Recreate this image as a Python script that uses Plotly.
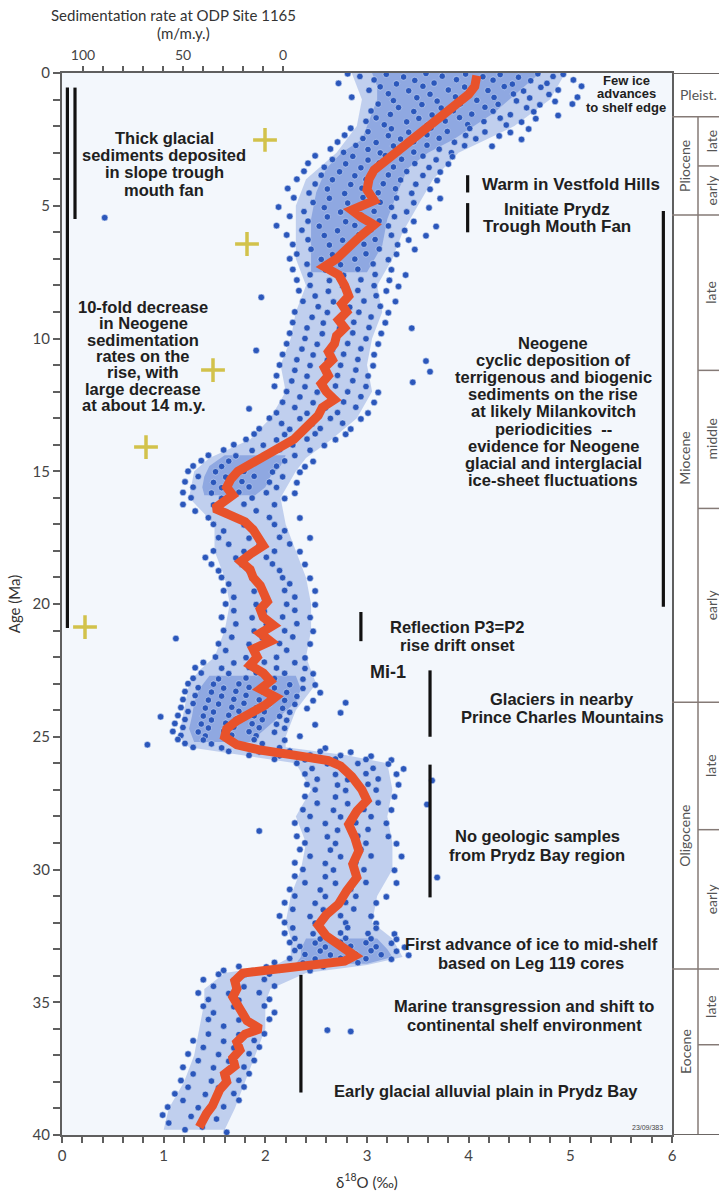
import plotly.graph_objects as go

# ---------------- data ----------------
# smoothed d18O curve (red)
curve_age = [0.1, 0.5, 0.8, 1.1, 1.5, 2.0, 2.5, 2.8, 3.2, 3.65, 4.0, 4.4, 4.8, 5.16, 5.45, 5.72,
             6.2, 6.67, 7.0, 7.3, 7.6, 8.0, 8.4, 8.7, 9.0, 9.3, 9.6, 9.9, 10.2, 10.5, 10.8, 11.1,
             11.4, 11.7, 12.0, 12.3, 12.6, 12.9, 13.2, 13.5, 13.8, 14.1, 14.4, 14.7, 15.0, 15.3,
             15.6, 15.9, 16.2, 16.4, 16.6, 16.9, 17.2, 17.5, 17.8, 18.1, 18.4, 18.7, 19.0, 19.3,
             19.6, 19.9, 20.2, 20.5, 20.8, 21.1, 21.4, 21.7, 22.0, 22.3, 22.6, 22.9, 23.2, 23.5,
             23.8, 24.1, 24.4, 24.7, 25.0, 25.3, 25.5, 25.7, 25.9, 26.1, 26.5, 27.0, 27.4, 27.8,
             28.3, 28.8, 29.3, 29.8, 30.3, 30.8, 31.3, 31.7, 32.1, 32.5, 32.9, 33.25, 33.45, 33.6,
             33.75, 33.9, 34.2, 34.5, 34.8, 35.1, 35.4, 35.7, 36.0, 36.2, 36.5, 36.8, 37.1, 37.4,
             37.7, 38.0, 38.3, 38.6, 38.9, 39.2, 39.5, 39.7]
curve_d18o = [4.08, 4.06, 4.0, 3.9, 3.76, 3.6, 3.45, 3.36, 3.2, 3.07, 3.02, 3.0, 3.07, 2.85, 2.95, 3.07,
              2.92, 2.8, 2.7, 2.58, 2.72, 2.78, 2.82, 2.75, 2.8, 2.72, 2.78, 2.7, 2.68, 2.62, 2.66, 2.58,
              2.62, 2.55, 2.6, 2.68, 2.56, 2.52, 2.45, 2.36, 2.28, 2.15, 2.0, 1.86, 1.73, 1.66,
              1.62, 1.68, 1.56, 1.5, 1.62, 1.8, 1.88, 1.92, 1.98, 1.86, 1.76, 1.85, 1.88, 1.95,
              1.98, 2.02, 1.95, 1.98, 2.08, 1.95, 2.05, 1.88, 1.92, 1.85, 1.98, 2.05, 1.95, 2.1,
              2.0, 1.85, 1.72, 1.62, 1.6, 1.72, 1.95, 2.3, 2.62, 2.74, 2.85, 2.95, 3.0, 2.9,
              2.82, 2.88, 2.92, 2.86, 2.9, 2.8, 2.72, 2.6, 2.52, 2.6, 2.75, 2.88, 2.78, 2.42,
              1.95, 1.78, 1.7, 1.72, 1.68, 1.72, 1.78, 1.82, 1.95, 1.8, 1.72, 1.75, 1.68, 1.7,
              1.6, 1.62, 1.55, 1.52, 1.48, 1.42, 1.38, 1.35]

# individual d18O measurements (age Ma, d18O permil)
cloud_0_3 = [
    (0.03, 2.81), (0.05, 3.19), (0.02, 3.58), (0.04, 3.97), (0.06, 4.31), (0.03, 4.68), (0.05, 4.93),
    (0.13, 2.93), (0.15, 3.36), (0.12, 3.74), (0.14, 4.14), (0.16, 4.49), (0.13, 4.83),
    (0.26, 3.07), (0.28, 3.47), (0.25, 3.88), (0.27, 4.24), (0.29, 4.61), (0.26, 5.03),
    (0.39, 2.72), (0.41, 3.29), (0.38, 3.66), (0.40, 4.07), (0.42, 4.43), (0.39, 4.77),
    (0.52, 3.13), (0.50, 3.55), (0.53, 3.96), (0.51, 4.35), (0.54, 4.71), (0.50, 5.11),
    (0.65, 3.02), (0.67, 3.41), (0.64, 3.80), (0.66, 4.19), (0.68, 4.54), (0.64, 4.88),
    (0.78, 3.21), (0.80, 3.62), (0.77, 4.02), (0.79, 4.44), (0.81, 4.79),
    (0.91, 2.85), (0.93, 3.49), (0.90, 3.87), (0.92, 4.25), (0.94, 4.60), (0.91, 5.07),
    (1.04, 3.26), (1.06, 3.69), (1.03, 4.08), (1.05, 4.47), (1.07, 4.85),
    (1.17, 3.11), (1.19, 3.54), (1.16, 3.92), (1.18, 4.29), (1.20, 4.70), (1.17, 5.02),
    (1.30, 3.31), (1.32, 3.73), (1.29, 4.16), (1.31, 4.57),
    (1.43, 3.04), (1.45, 3.46), (1.42, 3.85), (1.44, 4.24), (1.46, 4.64),
    (1.56, 3.23), (1.58, 3.64), (1.55, 4.03), (1.57, 4.41), (1.60, 4.88),
    (1.69, 3.09), (1.71, 3.51), (1.68, 3.91), (1.70, 4.31), (1.72, 4.66),
    (1.82, 2.99), (1.84, 3.39), (1.81, 3.77), (1.83, 4.15), (1.85, 4.52),
    (1.95, 3.17), (1.97, 3.59), (1.94, 3.99), (1.96, 4.37),
    (2.08, 2.84), (2.10, 3.24), (2.07, 3.63), (2.09, 4.01), (2.11, 4.59),
    (2.21, 3.01), (2.23, 3.41), (2.20, 3.79), (2.22, 4.16), (2.24, 4.41),
    (2.34, 2.78), (2.36, 3.21), (2.33, 3.59), (2.35, 3.97), (2.37, 4.30),
    (2.47, 2.96), (2.49, 3.33), (2.46, 3.71), (2.48, 4.07), (2.50, 4.52),
    (2.60, 2.71), (2.62, 3.09), (2.59, 3.46), (2.61, 3.86),
    (2.73, 2.89), (2.75, 3.26), (2.72, 3.59), (2.74, 3.96), (2.76, 4.23),
    (2.86, 2.64), (2.88, 3.01), (2.85, 3.35), (2.87, 3.71),
    (2.99, 2.77), (3.01, 3.13), (2.98, 3.46), (3.00, 3.83),
]
cloud_3_8 = [
    (3.12, 2.49), (3.14, 2.86), (3.11, 3.18), (3.13, 3.55), (3.15, 3.84),
    (3.26, 2.66), (3.28, 3.01), (3.25, 3.34), (3.27, 3.68),
    (3.40, 2.42), (3.42, 2.79), (3.39, 3.12), (3.41, 3.47), (3.43, 3.80),
    (3.55, 2.58), (3.57, 2.94), (3.54, 3.26), (3.56, 3.61),
    (3.70, 2.38), (3.72, 2.73), (3.69, 3.05), (3.71, 3.39), (3.73, 3.72),
    (3.85, 2.55), (3.87, 2.88), (3.84, 3.21), (3.86, 3.55),
    (4.00, 2.31), (4.02, 2.66), (4.01, 2.99), (4.03, 3.33), (4.05, 3.69),
    (4.18, 2.49), (4.20, 2.84), (4.17, 3.16), (4.19, 3.48),
    (4.35, 2.22), (4.37, 2.61), (4.34, 2.95), (4.36, 3.28), (4.38, 3.62),
    (4.52, 2.43), (4.54, 2.78), (4.51, 3.11), (4.53, 3.44),
    (4.70, 2.28), (4.72, 2.63), (4.69, 2.96), (4.71, 3.29), (4.73, 3.72),
    (4.88, 2.47), (4.90, 2.81), (4.87, 3.13), (4.89, 3.46),
    (5.05, 2.13), (5.07, 2.58), (5.04, 2.92), (5.06, 3.24), (5.08, 3.61),
    (5.22, 2.38), (5.24, 2.74), (5.21, 3.07), (5.23, 3.39),
    (5.40, 2.24), (5.42, 2.61), (5.39, 2.95), (5.41, 3.27), (5.45, 0.42),
    (5.58, 2.42), (5.60, 2.79), (5.57, 3.12), (5.59, 3.46),
    (5.75, 2.11), (5.77, 2.53), (5.74, 2.88), (5.76, 3.21), (5.78, 3.68),
    (5.92, 2.36), (5.94, 2.71), (5.91, 3.04), (5.93, 3.37),
    (6.10, 2.21), (6.12, 2.58), (6.09, 2.92), (6.11, 3.24), (6.13, 3.58),
    (6.28, 2.42), (6.30, 2.76), (6.27, 3.08), (6.29, 3.41),
    (6.46, 2.27), (6.48, 2.63), (6.45, 2.97), (6.47, 3.30),
    (6.64, 2.45), (6.66, 2.79), (6.63, 3.12), (6.65, 3.47),
    (6.82, 2.31), (6.84, 2.66), (6.81, 2.99), (6.83, 3.29),
    (7.00, 2.24), (7.02, 2.55), (7.01, 2.88), (7.03, 3.21),
    (7.20, 2.41), (7.22, 2.74), (7.19, 3.06),
    (7.40, 2.27), (7.42, 2.59), (7.39, 2.91), (7.41, 3.24),
    (7.60, 2.44), (7.62, 2.77), (7.59, 3.08), (7.61, 3.38),
    (7.80, 2.31), (7.82, 2.63), (7.79, 2.94), (7.81, 3.22),
]
cloud_8_14 = [
    (8.00, 2.44), (8.02, 2.76), (8.01, 3.07), (8.04, 3.31),
    (8.20, 2.33), (8.22, 2.62), (8.19, 2.91), (8.21, 3.19),
    (8.40, 2.49), (8.42, 2.81), (8.39, 3.09), (8.45, 1.96),
    (8.60, 2.37), (8.62, 2.67), (8.59, 2.97), (8.61, 3.28),
    (8.80, 2.52), (8.82, 2.83), (8.79, 3.13),
    (9.00, 2.29), (9.02, 2.61), (9.01, 2.92), (9.03, 3.21),
    (9.20, 2.46), (9.22, 2.76), (9.19, 3.04),
    (9.40, 2.27), (9.42, 2.57), (9.39, 2.87), (9.41, 3.18),
    (9.60, 2.41), (9.62, 2.73), (9.59, 3.02), (9.61, 3.44),
    (9.80, 2.24), (9.82, 2.56), (9.79, 2.86), (9.81, 3.14),
    (10.00, 2.39), (10.02, 2.69), (10.01, 2.99),
    (10.20, 2.21), (10.22, 2.51), (10.19, 2.81), (10.21, 3.11),
    (10.40, 2.36), (10.42, 2.66), (10.39, 2.94), (10.45, 1.91),
    (10.60, 2.17), (10.62, 2.47), (10.59, 2.77), (10.61, 3.07),
    (10.80, 2.31), (10.82, 2.61), (10.79, 2.91), (10.85, 3.58),
    (11.00, 2.14), (11.02, 2.44), (11.01, 2.74), (11.03, 3.06),
    (11.20, 2.29), (11.22, 2.59), (11.19, 2.89), (11.25, 3.62),
    (11.40, 2.11), (11.42, 2.41), (11.39, 2.71), (11.41, 3.01),
    (11.60, 2.26), (11.62, 2.56), (11.59, 2.86), (11.65, 3.45),
    (11.80, 2.09), (11.82, 2.39), (11.79, 2.69), (11.81, 2.99),
    (12.00, 2.21), (12.02, 2.51), (12.01, 2.81), (12.03, 3.11),
    (12.20, 2.34), (12.22, 2.64), (12.19, 2.94),
    (12.40, 2.17), (12.42, 2.47), (12.39, 2.77), (12.41, 3.07),
    (12.60, 2.29), (12.62, 2.59), (12.59, 2.89), (12.65, 1.84),
    (12.80, 2.11), (12.82, 2.41), (12.79, 2.71), (12.81, 3.01),
    (13.00, 2.04), (13.02, 2.34), (13.01, 2.64), (13.03, 2.94),
    (13.20, 2.16), (13.22, 2.46), (13.19, 2.76),
    (13.40, 1.94), (13.42, 2.24), (13.39, 2.54), (13.41, 2.84),
    (13.60, 1.89), (13.62, 2.19), (13.59, 2.49), (13.61, 2.79),
    (13.80, 1.81), (13.82, 2.11), (13.79, 2.41), (13.81, 2.69),
]
cloud_14_22 = [
    (14.00, 1.69), (14.02, 1.98), (14.01, 2.27), (14.03, 2.58),
    (14.20, 1.59), (14.22, 1.87), (14.19, 2.14), (14.21, 2.44),
    (14.40, 1.44), (14.42, 1.71), (14.39, 1.99), (14.41, 2.29),
    (14.60, 1.37), (14.62, 1.64), (14.59, 1.91), (14.61, 2.19), (14.63, 2.47),
    (14.80, 1.29), (14.82, 1.57), (14.79, 1.84), (14.81, 2.11), (14.83, 2.39),
    (15.00, 1.24), (15.02, 1.51), (15.01, 1.79), (15.03, 2.07), (15.04, 2.34),
    (15.20, 1.34), (15.22, 1.61), (15.19, 1.89), (15.21, 2.17),
    (15.40, 1.21), (15.42, 1.49), (15.39, 1.77), (15.41, 2.04), (15.43, 2.31),
    (15.60, 1.29), (15.62, 1.57), (15.59, 1.84), (15.61, 2.11),
    (15.80, 1.19), (15.82, 1.47), (15.79, 1.74), (15.81, 2.01), (15.83, 2.29),
    (16.00, 1.27), (16.02, 1.57), (16.01, 1.87), (16.03, 2.19),
    (16.25, 1.19), (16.27, 1.49), (16.24, 1.79), (16.26, 2.09),
    (16.50, 1.31), (16.52, 1.61), (16.49, 1.91),
    (16.75, 1.44), (16.77, 1.74), (16.74, 2.04), (16.76, 2.34),
    (17.00, 1.49), (17.02, 1.79), (17.01, 2.09),
    (17.25, 1.59), (17.27, 1.89), (17.24, 2.19),
    (17.50, 1.54), (17.52, 1.84), (17.49, 2.14), (17.51, 2.44),
    (17.75, 1.64), (17.77, 1.94), (17.74, 2.24),
    (18.00, 1.49), (18.02, 1.79), (18.01, 2.09), (18.03, 2.34),
    (18.25, 1.41), (18.27, 1.71), (18.24, 2.01),
    (18.50, 1.47), (18.52, 1.77), (18.49, 2.07), (18.51, 2.39),
    (18.75, 1.54), (18.77, 1.84), (18.74, 2.14),
    (19.00, 1.57), (19.02, 1.87), (19.01, 2.17), (19.03, 2.44),
    (19.25, 1.64), (19.27, 1.94), (19.24, 2.24),
    (19.50, 1.59), (19.52, 1.89), (19.49, 2.19), (19.51, 2.49),
    (19.75, 1.69), (19.77, 1.99), (19.74, 2.29),
    (20.00, 1.61), (20.02, 1.91), (20.01, 2.21), (20.03, 2.49),
    (20.25, 1.69), (20.27, 1.99), (20.24, 2.29),
    (20.50, 1.57), (20.52, 1.87), (20.49, 2.17), (20.51, 2.44),
    (20.75, 1.71), (20.77, 2.01), (20.74, 2.31),
    (21.00, 1.59), (21.02, 1.89), (21.01, 2.19), (21.03, 2.47),
    (21.25, 1.67), (21.27, 1.97), (21.24, 2.27), (21.30, 1.12),
    (21.50, 1.54), (21.52, 1.84), (21.49, 2.14), (21.51, 2.44),
    (21.75, 1.61), (21.77, 1.91), (21.74, 2.21),
]
cloud_22_26 = [
    (22.00, 1.51), (22.02, 1.81), (22.01, 2.11), (22.03, 2.39),
    (22.20, 1.39), (22.22, 1.69), (22.19, 1.99), (22.21, 2.29),
    (22.40, 1.31), (22.42, 1.57), (22.39, 1.84), (22.41, 2.11), (22.43, 2.39),
    (22.60, 1.37), (22.62, 1.64), (22.59, 1.91), (22.61, 2.19), (22.63, 2.47),
    (22.80, 1.29), (22.82, 1.54), (22.79, 1.81), (22.81, 2.09), (22.83, 2.37),
    (23.00, 1.24), (23.02, 1.49), (23.01, 1.74), (23.03, 1.99), (23.04, 2.24), (23.05, 2.49),
    (23.15, 1.34), (23.17, 1.59), (23.14, 1.84), (23.16, 2.09), (23.18, 2.37),
    (23.30, 1.21), (23.32, 1.47), (23.29, 1.71), (23.31, 1.97), (23.33, 2.21), (23.34, 2.54),
    (23.45, 1.31), (23.47, 1.57), (23.44, 1.81), (23.46, 2.07), (23.48, 2.31),
    (23.60, 1.19), (23.62, 1.44), (23.59, 1.69), (23.61, 1.94), (23.63, 2.19), (23.64, 2.47),
    (23.75, 1.29), (23.77, 1.54), (23.74, 1.79), (23.76, 2.04), (23.78, 2.29), (23.72, 2.79),
    (23.90, 1.17), (23.92, 1.41), (23.89, 1.67), (23.91, 1.91), (23.93, 2.17), (23.94, 2.41),
    (24.05, 1.24), (24.07, 1.49), (24.04, 1.74), (24.06, 1.99), (24.08, 2.24), (24.10, 2.74),
    (24.20, 1.14), (24.22, 1.39), (24.19, 1.64), (24.21, 1.89), (24.23, 2.14), (24.25, 0.97),
    (24.35, 1.21), (24.37, 1.47), (24.34, 1.71), (24.36, 1.97), (24.38, 2.21),
    (24.50, 1.11), (24.52, 1.37), (24.49, 1.61), (24.51, 1.87), (24.53, 2.11), (24.55, 2.49),
    (24.65, 1.19), (24.67, 1.44), (24.64, 1.69), (24.66, 1.94), (24.68, 2.19),
    (24.80, 1.09), (24.82, 1.34), (24.79, 1.59), (24.81, 1.84), (24.83, 2.09),
    (24.95, 1.17), (24.97, 1.41), (24.94, 1.67), (24.96, 1.91), (24.98, 2.34),
    (25.10, 1.14), (25.12, 1.39), (25.09, 1.64), (25.11, 1.89), (25.13, 2.19),
    (25.25, 1.21), (25.27, 1.47), (25.24, 1.71), (25.26, 1.97), (25.30, 0.84),
    (25.40, 1.29), (25.42, 1.57), (25.39, 1.84), (25.41, 2.14), (25.43, 2.59),
    (25.55, 1.64), (25.57, 1.94), (25.54, 2.24), (25.56, 2.54), (25.58, 2.84),
    (25.70, 1.84), (25.72, 2.14), (25.69, 2.44), (25.71, 2.74), (25.73, 3.04),
    (25.85, 2.09), (25.87, 2.39), (25.84, 2.69), (25.86, 2.99), (25.88, 3.24),
]
cloud_26_34 = [
    (26.00, 2.31), (26.02, 2.61), (26.01, 2.91), (26.03, 3.21),
    (26.20, 2.46), (26.22, 2.76), (26.19, 3.06), (26.21, 3.36),
    (26.40, 2.39), (26.42, 2.69), (26.39, 2.99), (26.41, 3.29),
    (26.60, 2.51), (26.62, 2.81), (26.59, 3.11), (26.65, 3.64),
    (26.80, 2.41), (26.82, 2.71), (26.79, 3.01), (26.81, 3.31),
    (27.00, 2.49), (27.02, 2.79), (27.01, 3.09),
    (27.25, 2.39), (27.27, 2.69), (27.24, 2.99), (27.26, 3.27),
    (27.50, 2.51), (27.52, 2.81), (27.49, 3.11), (27.55, 3.59),
    (27.75, 2.37), (27.77, 2.67), (27.74, 2.97), (27.76, 3.24),
    (28.00, 2.44), (28.02, 2.74), (28.01, 3.04),
    (28.25, 2.29), (28.27, 2.59), (28.24, 2.89), (28.26, 3.19),
    (28.50, 2.41), (28.52, 2.71), (28.49, 3.01), (28.55, 1.94),
    (28.75, 2.31), (28.77, 2.61), (28.74, 2.91), (28.76, 3.21),
    (29.00, 2.39), (29.02, 2.69), (29.01, 2.99), (29.03, 3.29),
    (29.25, 2.34), (29.27, 2.64), (29.24, 2.94),
    (29.50, 2.44), (29.52, 2.74), (29.49, 3.04), (29.51, 3.34),
    (29.75, 2.29), (29.77, 2.59), (29.74, 2.89),
    (30.00, 2.37), (30.02, 2.67), (30.01, 2.97), (30.03, 3.27),
    (30.25, 2.29), (30.27, 2.59), (30.24, 2.89), (30.30, 3.69),
    (30.50, 2.39), (30.52, 2.69), (30.49, 2.99), (30.51, 3.29),
    (30.75, 2.24), (30.77, 2.54), (30.74, 2.84),
    (31.00, 2.29), (31.02, 2.59), (31.01, 2.89), (31.03, 3.19),
    (31.25, 2.19), (31.27, 2.49), (31.24, 2.79), (31.26, 3.09),
    (31.50, 2.27), (31.52, 2.57), (31.49, 2.87),
    (31.75, 2.14), (31.77, 2.44), (31.74, 2.74), (31.76, 3.04),
    (32.00, 2.19), (32.02, 2.49), (32.01, 2.79), (32.03, 3.09),
    (32.20, 2.27), (32.22, 2.54), (32.19, 2.81), (32.21, 3.09),
    (32.40, 2.19), (32.42, 2.47), (32.39, 2.74), (32.41, 3.01), (32.43, 3.27),
    (32.60, 2.29), (32.62, 2.54), (32.59, 2.79), (32.61, 3.04), (32.63, 3.29),
    (32.75, 2.24), (32.77, 2.49), (32.74, 2.74), (32.76, 2.99), (32.78, 3.24),
    (32.90, 2.34), (32.92, 2.59), (32.89, 2.84), (32.91, 3.09), (32.93, 3.37),
    (33.05, 2.29), (33.07, 2.54), (33.04, 2.79), (33.06, 3.04), (33.08, 3.29),
    (33.20, 2.39), (33.22, 2.64), (33.19, 2.89), (33.21, 3.14), (33.23, 3.41),
    (33.35, 2.24), (33.37, 2.49), (33.34, 2.74), (33.36, 2.99), (33.38, 3.24),
    (33.50, 2.09), (33.52, 2.37), (33.49, 2.64), (33.51, 2.91),
    (33.65, 1.74), (33.67, 2.01), (33.64, 2.29), (33.66, 2.57),
    (33.80, 1.59), (33.82, 1.87), (33.79, 2.14), (33.81, 2.44),
    (33.95, 1.54), (33.97, 1.79), (33.94, 2.04),
]
cloud_34_40 = [
    (34.15, 1.39), (34.17, 1.69), (34.14, 1.99),
    (34.40, 1.49), (34.42, 1.79), (34.39, 2.09),
    (34.65, 1.34), (34.67, 1.64), (34.64, 1.94),
    (34.90, 1.44), (34.92, 1.74), (34.89, 2.04),
    (35.15, 1.39), (35.17, 1.69), (35.14, 1.99),
    (35.40, 1.49), (35.42, 1.79), (35.39, 2.09),
    (35.65, 1.44), (35.67, 1.74), (35.64, 2.04),
    (35.90, 1.59), (35.92, 1.89), (36.05, 2.61), (36.10, 2.84),
    (36.20, 1.44), (36.22, 1.74), (36.19, 1.99),
    (36.45, 1.29), (36.47, 1.59), (36.44, 1.89),
    (36.70, 1.39), (36.72, 1.69), (36.69, 1.94),
    (36.95, 1.24), (36.97, 1.54), (36.94, 1.84),
    (37.20, 1.34), (37.22, 1.64), (37.19, 1.89),
    (37.45, 1.19), (37.47, 1.49), (37.44, 1.79),
    (37.70, 1.29), (37.72, 1.59), (37.69, 1.84),
    (37.95, 1.17), (37.97, 1.47), (37.94, 1.74),
    (38.20, 1.24), (38.22, 1.54), (38.19, 1.79),
    (38.45, 1.11), (38.47, 1.41), (38.44, 1.69),
    (38.70, 1.19), (38.72, 1.49), (38.69, 1.74),
    (38.95, 1.04), (38.97, 1.34), (38.94, 1.59),
    (39.25, 0.99), (39.30, 1.27), (39.40, 1.52), (39.55, 1.05),
    (39.70, 1.38), (39.80, 1.21), (39.90, 1.62),
]

# outer envelope of the measurement cloud and its densest cores
env_age = [0.0, 1.0, 2.0, 3.0, 4.0, 5.0, 6.0, 7.0, 8.0, 9.0, 10.0, 11.0, 12.0, 13.0, 13.8,
           14.5, 15.0, 16.0, 17.0, 18.0, 19.0, 20.0, 21.0, 22.0, 22.5, 23.0, 24.0, 25.0, 25.4,
           25.7, 26.0, 27.0, 28.0, 29.0, 30.0, 31.0, 32.0, 32.6, 33.3, 33.6, 33.9, 34.5, 35.0,
           36.0, 37.0, 38.0, 39.0, 39.8]
env_left = [2.85, 2.95, 2.9, 2.7, 2.4, 2.3, 2.3, 2.3, 2.4, 2.3, 2.25, 2.15, 2.2, 2.05, 1.85,
            1.45, 1.3, 1.25, 1.5, 1.5, 1.6, 1.65, 1.6, 1.5, 1.35, 1.25, 1.2, 1.15, 1.25,
            1.8, 2.3, 2.45, 2.3, 2.4, 2.35, 2.25, 2.2, 2.25, 2.25, 2.1, 1.6, 1.4, 1.4,
            1.35, 1.3, 1.2, 1.05, 1.0]
env_right = [4.95, 4.8, 4.45, 3.9, 3.65, 3.5, 3.35, 3.25, 3.1, 3.15, 3.05, 3.0, 3.05, 2.9, 2.65,
             2.4, 2.3, 2.15, 2.2, 2.3, 2.4, 2.45, 2.45, 2.4, 2.45, 2.5, 2.3, 2.2, 2.2,
             2.8, 3.2, 3.25, 3.2, 3.25, 3.25, 3.1, 3.05, 3.25, 3.35, 3.0, 2.4, 2.05, 2.0,
             2.0, 1.9, 1.8, 1.7, 1.6]
core_groups = [
    # (ages, left edge, right edge)
    ([0.0, 0.5, 1.0, 1.5, 2.0, 2.5, 3.0, 3.6, 4.5, 5.5, 6.5, 7.5],
     [3.05, 3.1, 3.1, 3.05, 3.0, 2.95, 2.75, 2.6, 2.5, 2.45, 2.45, 2.45],
     [4.7, 4.55, 4.4, 4.25, 4.05, 3.85, 3.6, 3.4, 3.3, 3.2, 3.15, 3.0]),
    ([22.7, 23.2, 23.7, 24.2, 24.7, 25.2],
     [1.45, 1.35, 1.3, 1.28, 1.25, 1.3],
     [2.3, 2.35, 2.3, 2.15, 2.0, 1.85]),
    ([32.6, 33.0, 33.3, 33.55],
     [2.4, 2.35, 2.35, 2.3],
     [3.1, 3.2, 3.25, 3.0]),
    ([14.4, 14.8, 15.2, 15.6, 15.9],
     [1.6, 1.45, 1.4, 1.38, 1.4],
     [2.2, 2.15, 2.05, 2.0, 1.9]),
]

# sedimentation rate at ODP Site 1165 (m/m.y., top axis)
sed_bar_rate = [107.8, 104.0]
sed_bar_top = [0.55, 0.55]
sed_bar_bottom = [20.9, 5.5]
sed_cross_rate = [9, 18, 35, 68.5, 99]
sed_cross_age = [2.52, 6.44, 11.19, 14.09, 20.87]

# event bars (d18O position, age top, age bottom)
event_d18o = [5.915, 3.99, 3.99, 2.94, 3.62, 3.62, 2.35]
event_top = [5.2, 3.85, 4.9, 20.3, 22.5, 26.05, 33.97]
event_bottom = [20.1, 4.5, 6.0, 21.4, 25.0, 31.05, 38.4]

# time scale column
epoch_names = ["Pliocene", "Miocene", "Oligocene", "Eocene"]
epoch_top = [1.65, 5.35, 23.7, 33.75]
epoch_bottom = [5.35, 23.7, 33.75, 40.0]
sub_names = ["late", "early", "late", "middle", "early", "late", "early", "late", ""]
sub_top = [1.65, 3.5, 5.35, 11.2, 16.4, 23.7, 28.5, 33.75, 36.6]
sub_bottom = [3.5, 5.35, 11.2, 16.4, 23.7, 28.5, 33.75, 36.6, 40.0]

top_major = [100, 50, 0]
top_minor = [90, 80, 70, 60, 40, 30, 20, 10]

# ---------------- figure ----------------
BLUE = "#2b57bb"
fig = go.Figure()

ex = env_left + env_right[::-1]
ey = env_age + env_age[::-1]
fig.add_trace(go.Scatter(x=ex, y=ey, fill="toself", mode="lines", line=dict(width=0),
                         fillcolor="rgba(75,115,205,0.30)", hoverinfo="skip", showlegend=False))
cx, cy = [], []
for ages, left, right in core_groups:
    cx += left + right[::-1] + [None]
    cy += ages + ages[::-1] + [None]
fig.add_trace(go.Scatter(x=cx, y=cy, fill="toself", mode="lines", line=dict(width=0),
                         fillcolor="rgba(70,110,205,0.40)", hoverinfo="skip", showlegend=False))

pts = cloud_0_3 + cloud_3_8 + cloud_8_14 + cloud_14_22 + cloud_22_26 + cloud_26_34 + cloud_34_40
fig.add_trace(go.Scatter(x=[p[1] for p in pts], y=[p[0] for p in pts], mode="markers",
                         marker=dict(size=6.5, color=BLUE, line=dict(width=0.7, color="rgba(220,232,250,0.8)")),
                         showlegend=False))

fig.add_trace(go.Scatter(x=curve_d18o, y=curve_age, mode="lines",
                         line=dict(color="#e8522b", width=9), showlegend=False))

bx, by = [], []
for d, t, b in zip(event_d18o, event_top, event_bottom):
    bx += [d, d, None]
    by += [t, b, None]
fig.add_trace(go.Scatter(x=bx, y=by, mode="lines", line=dict(color="#111111", width=3.2),
                         showlegend=False))

sx, sy = [], []
for r, t, b in zip(sed_bar_rate, sed_bar_top, sed_bar_bottom):
    sx += [r, r, None]
    sy += [t, b, None]
fig.add_trace(go.Scatter(x=sx, y=sy, xaxis="x2", mode="lines",
                         line=dict(color="#111111", width=3.2), showlegend=False))
fig.add_trace(go.Scatter(x=sed_cross_rate, y=sed_cross_age, xaxis="x2", mode="markers",
                         marker=dict(symbol="cross-thin", size=17, line=dict(width=3.5, color="#d2c24b")),
                         showlegend=False))

# ---------------- annotations (placed in pixel terms) ----------------
L, T, PW, PH = 62.0, 73.0, 610.0, 1062.0
TXT = "#202020"
ann = []


def px_note(text, px, py, size, bold=True, color=TXT, family="Liberation Sans", angle=0):
    t = "<b>" + text + "</b>" if bold else text
    ann.append(dict(text=t, x=(px - L) / PW, y=1 - (py - T) / PH, xref="paper", yref="paper",
                    showarrow=False, textangle=angle, xanchor="center", yanchor="middle",
                    font=dict(family=family, size=size, color=color)))


def block(lines, cx, y0, sp, size):
    for i, s in enumerate(lines):
        px_note(s, cx, y0 + i * sp, size)


block(["Few ice", "advances", "to shelf edge"], 626, 81, 13, 13)
block(["Thick glacial", "sediments deposited", "in slope trough", "mouth fan"], 164, 138, 17.2, 16.5)
block(["Warm in Vestfold Hills"], 571, 184, 17, 17)
block(["Initiate Prydz", "Trough Mouth Fan"], 557, 209, 17.2, 17)
block(["10-fold decrease", "in Neogene", "sedimentation", "rates on the", "rise, with",
       "large decrease", "at about 14 m.y."], 143, 307, 16.3, 16.5)
block(["Neogene", "cyclic deposition of", "terrigenous and biogenic", "sediments on the rise",
       "at likely Milankovitch", "periodicities  --", "evidence for Neogene",
       "glacial and interglacial", "ice-sheet fluctuations"], 553, 343, 17.1, 16.5)
block(["Reflection P3=P2", "rise drift onset"], 457, 627, 17.5, 16.5)
block(["Mi-1"], 388, 672, 0, 18)
block(["Glaciers in nearby", "Prince Charles Mountains"], 562, 699, 17.5, 16.5)
block(["No geologic samples", "from Prydz Bay region"], 537, 836, 18.5, 16.5)
block(["First advance of ice to mid-shelf", "based on Leg 119 cores"], 531, 944, 18.5, 16.5)
block(["Marine transgression and shift to", "continental shelf environment"], 524, 1006, 18.5, 16.5)
block(["Early glacial alluvial plain in Prydz Bay"], 486, 1091, 0, 16.5)
px_note("23/09/383", 647, 1127, 7, bold=False, color="#444")

px_note("Sedimentation rate at ODP Site 1165", 173, 15, 15, bold=False, family="Lato", color="#333")
px_note("(m/m.y.)", 183, 33, 15, bold=False, family="Lato", color="#333")


def age_py(a):
    return T + a * PH / 40.0


px_note("Pleist.", 699, age_py(0.82), 14, bold=False, family="Lato", color="#555")
for n, t, b in zip(epoch_names, epoch_top, epoch_bottom):
    px_note(n, 685, age_py((t + b) / 2), 14, bold=False, family="Lato", color="#555", angle=-90)
for n, t, b in zip(sub_names, sub_top, sub_bottom):
    if n:
        px_note(n, 711, age_py((t + b) / 2), 14, bold=False, family="Lato", color="#555", angle=-90)

# time scale lines
shapes = []
LC = "#857a76"
x672 = 1.0
x698 = (698 - L) / PW
x719 = (722 - L) / PW
shapes.append(dict(type="line", xref="paper", yref="y", x0=x698, x1=x698, y0=epoch_top[0], y1=40,
                   line=dict(color=LC, width=1.5)))
for yv in [0.0] + epoch_top + [40.0]:
    edge = yv in (0.0, 40.0)
    shapes.append(dict(type="line", xref="paper", yref="y", x0=x672, x1=x719, y0=yv, y1=yv,
                       line=dict(color="#6b6664" if edge else LC, width=2 if edge else 1.5)))
for yv in sub_top[1:]:
    if yv not in epoch_top:
        shapes.append(dict(type="line", xref="paper", yref="y", x0=x698, x1=x719, y0=yv, y1=yv,
                           line=dict(color=LC, width=1.5)))

AX = "#5f5f5f"
fig.update_layout(
    width=719, height=1191,
    margin=dict(l=62, r=47, t=73, b=56, autoexpand=False),
    paper_bgcolor="white", plot_bgcolor="#f3f7fc",
    showlegend=False,
    annotations=ann, shapes=shapes,
    xaxis=dict(range=[0, 6], tick0=0, dtick=1, automargin=False,
               ticks="outside", ticklen=6, tickwidth=1.5, tickcolor=AX,
               minor=dict(tick0=0, dtick=0.2, ticks="outside", ticklen=6, tickwidth=1.5, tickcolor=AX,
                          showgrid=False),
               showline=True, linecolor=AX, linewidth=2, showgrid=False, zeroline=False,
               tickfont=dict(family="Lato", size=15, color="#444"),
               title=dict(text="δ<sup>18</sup>O (‰)", font=dict(family="Lato", size=15, color="#333"),
                          standoff=14)),
    xaxis2=dict(range=[110.5, -194.5], overlaying="x", side="top", anchor="y", automargin=False,
                tickmode="array", tickvals=top_major, ticktext=[str(v) for v in top_major],
                ticks="outside", ticklen=5, tickwidth=1.5, tickcolor=AX,
                minor=dict(tickmode="array", tickvals=top_minor, ticks="outside", ticklen=5,
                           tickwidth=1.5, tickcolor=AX, showgrid=False),
                showline=True, linecolor=AX, linewidth=2, showgrid=False, zeroline=False,
                tickfont=dict(family="Lato", size=14, color="#444")),
    yaxis=dict(range=[40, 0], tick0=0, dtick=5, automargin=False,
               ticks="outside", ticklen=7, tickwidth=1.5, tickcolor=AX,
               minor=dict(tick0=0, dtick=1, ticks="outside", ticklen=7, tickwidth=1.5, tickcolor=AX,
                          showgrid=False),
               showline=True, mirror=True, linecolor=AX, linewidth=2, showgrid=False, zeroline=False,
               tickfont=dict(family="Lato", size=15, color="#444"),
               title=dict(text="Age (Ma)", font=dict(family="Lato", size=15, color="#333"), standoff=8)),
)

fig.write_html("out.html")
